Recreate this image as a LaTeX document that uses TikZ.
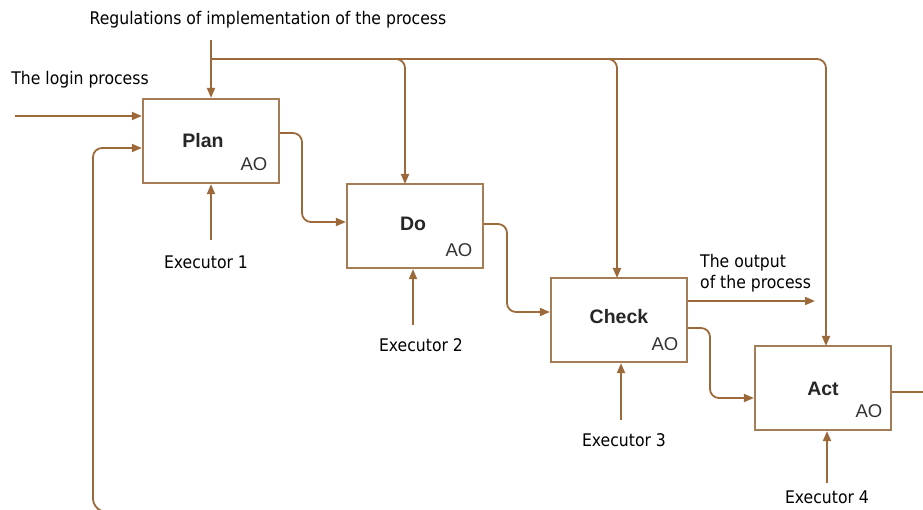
\documentclass[tikz,border=0pt]{standalone}
\usepackage{fontspec}
\setmainfont{DejaVu Sans Condensed}
\newfontfamily\boxfont{Liberation Sans}
\usetikzlibrary{arrows.meta}
\definecolor{ln}{HTML}{9C6A3A}
\definecolor{bx}{HTML}{A57C55}
\tikzset{
  procbox/.style={draw=bx, line width=2.2pt, minimum width=136pt, minimum height=84pt, inner sep=0pt, fill=white},
  conn/.style={draw=ln, line width=1.8pt, -{Triangle[length=10pt,width=8pt]}, rounded corners=9pt},
  plain/.style={draw=ln, line width=1.8pt, rounded corners=9pt},
  lbl/.style={font=\fontsize{17.4}{21}\selectfont, inner sep=0pt, text=black},
  ttl/.style={font=\boxfont\bfseries\fontsize{19.5}{22}\selectfont, text=black!85, inner sep=0pt},
  ao/.style={font=\boxfont\fontsize{18.5}{22}\selectfont, text=black!80, inner sep=0pt}
}
\begin{document}
\begin{tikzpicture}[x=1pt,y=-1pt]
\useasboundingbox (0,0) rectangle (923,510);
% boxes
\node[procbox] (plan) at (211,141) {};
\node[procbox] (do) at (415,226) {};
\node[procbox] (check) at (619,320) {};
\node[procbox] (act) at (823,388) {};
\node[ttl] (tplan) at (203,141) {Plan};
\node[ao] (aplan) at (254,164) {AO};
\node[ttl] (tdo) at (413,224) {Do};
\node[ao] (ado) at (459,250) {AO};
\node[ttl] (tcheck) at (619,317) {Check};
\node[ao] (acheck) at (665,344) {AO};
\node[ttl] (tact) at (823,389) {Act};
\node[ao] (aact) at (869,411) {AO};
% labels
\node[lbl] (reg) at (268,20) {Regulations of implementation of the process};
\node[lbl] (login) at (80,80) {The login process};
\node[lbl, align=left, anchor=west] (outp) at (700,273) {The output\\of the process};
\node[lbl] (e1) at (206,262) {Executor 1};
\node[lbl] (e2) at (421,345) {Executor 2};
\node[lbl] (e3) at (624,440) {Executor 3};
\node[lbl] (e4) at (827,497) {Executor 4};
% coordinates
\coordinate (regtop) at (211,40);
\coordinate (j1) at (211,59);
\coordinate (loginstart) at (15,116);
\coordinate (fbstart) at (102,511);
\coordinate (outend) at (815,301);
\coordinate (actout) at (923,392);
% regulations
\draw[conn] (regtop) -- (plan.north);
\draw[plain] (j1) -- (617,59);
\draw[conn] (j1) -- (405,59) -- (405,184);
\draw[conn] (j1) -- (617,59) -- (617,278);
\draw[conn] (j1) -- (826,59) -- (826,346);
% inputs
\draw[conn] (loginstart) -- (loginstart -| plan.west);
\draw[conn] (fbstart) -- (93,508) -- (93,148) -- (plan.west |- 0,148);
% flows between boxes
\draw[conn] (plan.east |- 0,133) -- (302,133) -- (302,222) -- (do.west |- 0,222);
\draw[conn] (do.east |- 0,224) -- (507,224) -- (507,312) -- (check.west |- 0,312);
\draw[conn] (check.east |- 0,301) -- (outend);
\draw[conn] (check.east |- 0,328) -- (710,328) -- (710,398) -- (act.west |- 0,398);
\draw[plain] (act.east |- actout) -- (actout);
% executors
\draw[conn] (211,240) -- (plan.south -| 211,0);
\draw[conn] (413,325) -- (do.south -| 413,0);
\draw[conn] (621,420) -- (check.south -| 621,0);
\draw[conn] (827,483) -- (act.south -| 827,0);
\end{tikzpicture}
\end{document}
